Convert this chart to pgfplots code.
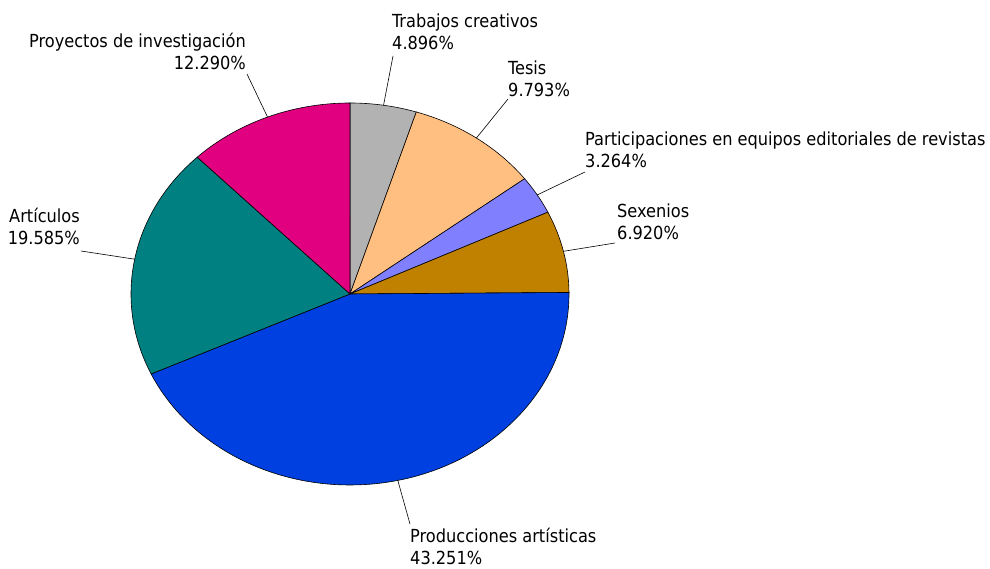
\documentclass[border=0pt]{standalone}
\usepackage{pgfplots}
\pgfplotsset{compat=1.18}
\usepackage{pgfplotstable}
\usepackage{fontspec}
\setmainfont{DejaVu Sans Condensed}

\definecolor{cTrab}{RGB}{178,178,178}
\definecolor{cTesis}{RGB}{255,191,128}
\definecolor{cPart}{RGB}{128,128,255}
\definecolor{cSex}{RGB}{192,128,0}
\definecolor{cProd}{RGB}{0,64,224}
\definecolor{cArt}{RGB}{0,128,128}
\definecolor{cProy}{RGB}{224,0,128}

% shares in percent, clockwise from 12 o'clock
\pgfplotstableread{
value color
4.896  cTrab
9.793  cTesis
3.264  cPart
6.920  cSex
43.251 cProd
19.585 cArt
12.290 cProy
}\piedata

\begin{document}
\begin{tikzpicture}[x=1pt,y=1pt]
\path (0,0) rectangle (990,569);
\begin{axis}[
    at={(131pt,84pt)}, anchor=south west,
    scale only axis, width=438pt, height=382pt,
    xmin=-1, xmax=1, ymin=-1, ymax=1,
    hide axis, clip=false,
]
\def\acc{0}
\pgfplotsforeachungrouped \i in {0,...,6}{
    \pgfplotstablegetelem{\i}{value}\of\piedata \let\v\pgfplotsretval
    \pgfplotstablegetelem{\i}{color}\of\piedata \let\c\pgfplotsretval
    \pgfmathsetmacro\a{90-3.6*\acc}
    \pgfmathsetmacro\b{90-3.6*(\acc+\v)}
    \pgfmathsetmacro\m{(\a+\b)/2}
    \edef\temp{\noexpand\filldraw[fill=\c,draw=black,line width=0.6pt]
        (axis cs:0,0) -- (axis cs:{cos(\a)},{sin(\a)})
        arc[start angle=\a,end angle=\b,x radius=219pt,y radius=191pt] -- cycle;
        \noexpand\coordinate (m\i) at (axis cs:{cos(\m)},{sin(\m)});}
    \temp
    \pgfmathsetmacro\acc{\acc+\v}
}
\end{axis}

% labels: node base = baseline of the last line
\begin{scope}[every node/.style={inner sep=0pt,font=\fontsize{18}{22.5}\selectfont}]
\draw[line width=0.6pt] (m0) -- (393,513);
\node[anchor=base west,align=left] at (392,519) {Trabajos creativos\\4.896\%};
\draw[line width=0.6pt] (m1) -- (508,470);
\node[anchor=base west,align=left] at (508,472) {Tesis\\9.793\%};
\draw[line width=0.6pt] (m2) -- (585,397);
\node[anchor=base west,align=left] at (585,401) {Participaciones en equipos editoriales de revistas\\3.264\%};
\draw[line width=0.6pt] (m3) -- (615,326);
\node[anchor=base west,align=left] at (617,329) {Sexenios\\6.920\%};
\draw[line width=0.6pt] (m4) -- (410,45);
\node[anchor=base west,align=left] at (410,4) {Producciones artísticas\\43.251\%};
\draw[line width=0.6pt] (m5) -- (81,318);
\node[anchor=base east,align=right] at (80,324) {Artículos\\19.585\%};
\draw[line width=0.6pt] (m6) -- (247,495);
\node[anchor=base east,align=right] at (246,499) {Proyectos de investigación\\12.290\%};
\end{scope}
\end{tikzpicture}
\end{document}
